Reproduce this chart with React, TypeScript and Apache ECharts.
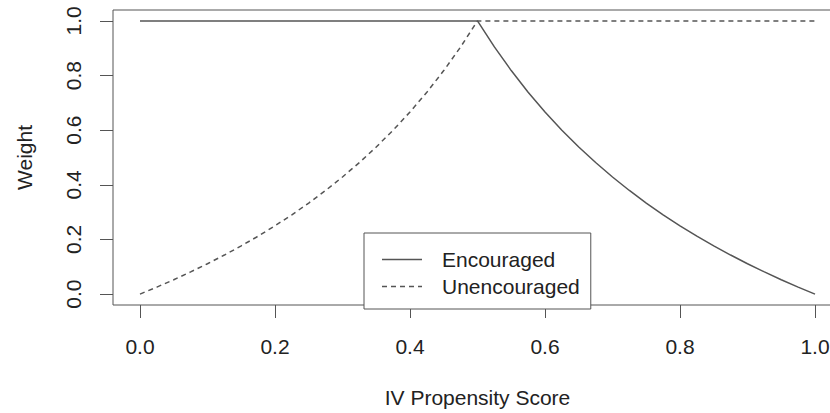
import React, { useEffect, useRef } from "react";
import * as echarts from "echarts";

const xValues = [
  0, 0.025, 0.05, 0.075, 0.1, 0.125, 0.15, 0.175, 0.2, 0.225, 0.25, 0.275, 0.3, 0.325, 0.35, 0.375, 0.4, 0.425, 0.45, 0.475,
  0.5, 0.525, 0.55, 0.575, 0.6, 0.625, 0.65, 0.675, 0.7, 0.725, 0.75, 0.775, 0.8, 0.825, 0.85, 0.875, 0.9, 0.925, 0.95, 0.975, 1,
];

const encouraged = [
  1, 1, 1, 1, 1, 1, 1, 1, 1, 1, 1, 1, 1, 1, 1, 1, 1, 1, 1, 1,
  1, 0.9048, 0.8182, 0.7391, 0.6667, 0.6, 0.5385, 0.4815, 0.4286, 0.3793, 0.3333, 0.2903, 0.25, 0.2121, 0.1765, 0.1429, 0.1111, 0.0811, 0.0526, 0.0256, 0,
];

const unencouraged = [
  0, 0.0256, 0.0526, 0.0811, 0.1111, 0.1429, 0.1765, 0.2121, 0.25, 0.2903, 0.3333, 0.3793, 0.4286, 0.4815, 0.5385, 0.6, 0.6667, 0.7391, 0.8182, 0.9048,
  1, 1, 1, 1, 1, 1, 1, 1, 1, 1, 1, 1, 1, 1, 1, 1, 1, 1, 1, 1, 1,
];

const xTicks = [0, 0.2, 0.4, 0.6, 0.8, 1.0];
const yTicks = [0, 0.2, 0.4, 0.6, 0.8, 1.0];
const seriesNames = ["Encouraged", "Unencouraged"];

const FONT = "'Liberation Sans', Arial, Helvetica, sans-serif";
const TEXT = "#222";
const LINE = "#555";

const SOLID_ICON = "path://M0,0h40v1.5h-40z";
const DASH_ICON = "path://M0,0h5v1.5h-5zM9,0h5v1.5h-5zM18,0h5v1.5h-5zM27,0h5v1.5h-5zM36,0h4v1.5h-4z";

export default function App() {
  const ref = useRef<HTMLDivElement>(null);
  useEffect(() => {
    if (!ref.current) return;
    const chart = echarts.init(ref.current, undefined, { renderer: "svg" });
    const pairs = (ys: number[]) => xValues.map((x, i) => [x, ys[i]]);
    chart.setOption({
      animation: false,
      backgroundColor: "#fff",
      textStyle: { fontFamily: FONT },
      grid: {
        left: 113,
        top: 10,
        right: 0,
        bottom: 103,
        show: true,
        borderColor: LINE,
        borderWidth: 1,
        backgroundColor: "transparent",
      },
      xAxis: {
        type: "value",
        min: -0.04,
        max: 1.04,
        name: "IV Propensity Score",
        nameLocation: "middle",
        nameGap: 82,
        nameTextStyle: { fontSize: 21, color: TEXT, fontFamily: FONT },
        axisLine: { show: false, onZero: false },
        splitLine: { show: false },
        axisTick: { show: true, length: 13, customValues: xTicks, lineStyle: { color: LINE, width: 1 } },
        axisLabel: {
          customValues: xTicks,
          fontSize: 21,
          color: TEXT,
          fontFamily: FONT,
          margin: 31,
          formatter: (v: number) => v.toFixed(1),
        },
      },
      yAxis: {
        type: "value",
        min: -0.04,
        max: 1.04,
        name: "Weight",
        nameLocation: "middle",
        nameGap: 78,
        nameTextStyle: { fontSize: 21, color: TEXT, fontFamily: FONT },
        axisLine: { show: false, onZero: false },
        splitLine: { show: false },
        axisTick: { show: true, length: 13, customValues: yTicks, lineStyle: { color: LINE, width: 1 } },
        axisLabel: {
          customValues: yTicks,
          rotate: 90,
          fontSize: 21,
          color: TEXT,
          fontFamily: FONT,
          margin: 29,
          formatter: (v: number) => v.toFixed(1),
        },
      },
      legend: {
        orient: "vertical",
        left: 364,
        top: 233,
        padding: [13, 11, 9, 18],
        itemGap: 0,
        itemWidth: 40,
        itemHeight: 1.5,
        borderColor: LINE,
        borderWidth: 1,
        backgroundColor: "#fff",
        data: [
          { name: seriesNames[0], icon: SOLID_ICON },
          { name: seriesNames[1], icon: DASH_ICON },
        ],
        itemStyle: { color: LINE, borderWidth: 0 },
        lineStyle: { width: 0 },
        textStyle: {
          fontSize: 21,
          lineHeight: 27,
          color: TEXT,
          fontFamily: FONT,
          padding: [0, 0, 0, 15],
        },
      },
      series: [
        {
          name: seriesNames[0],
          type: "line",
          data: pairs(encouraged),
          showSymbol: false,
          symbol: "none",
          lineStyle: { color: LINE, width: 1.5, type: "solid" },
          itemStyle: { color: LINE },
          z: 3,
        },
        {
          name: seriesNames[1],
          type: "line",
          data: pairs(unencouraged),
          showSymbol: false,
          symbol: "none",
          lineStyle: { color: LINE, width: 1.5, type: [5, 4] },
          itemStyle: { color: LINE },
          z: 2,
        },
      ],
    });
    return () => chart.dispose();
  }, []);
  return (
    <div style={{ position: "absolute", left: 0, top: 0, width: 830, height: 413, overflow: "hidden", background: "#fff" }}>
      <div ref={ref} style={{ width: 842, height: 413 }} />
    </div>
  );
}
